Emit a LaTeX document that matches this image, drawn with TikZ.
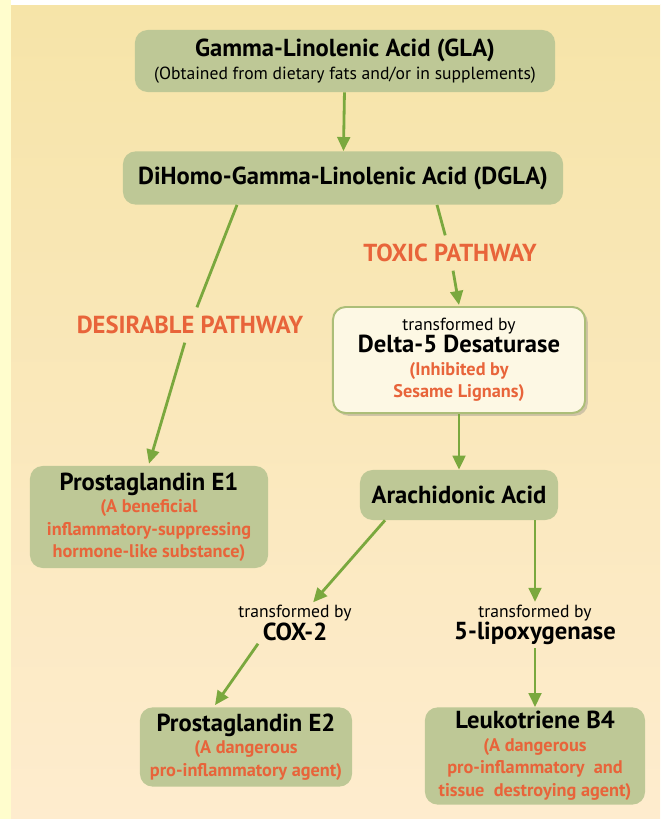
\documentclass[tikz,border=0pt]{standalone}
\usepackage{fontspec}
\setmainfont{PT Sans}
\usetikzlibrary{arrows.meta,shadows,calc}

\definecolor{boxgreen}{RGB}{190,200,150}
\definecolor{boxedge}{RGB}{172,190,120}
\definecolor{arrowgreen}{RGB}{122,168,62}
\definecolor{pathorange}{RGB}{232,100,58}
\definecolor{bgtop}{RGB}{246,228,168}
\definecolor{bgbottom}{RGB}{254,236,206}
\definecolor{stripyellow}{RGB}{255,253,205}
\definecolor{cream}{RGB}{253,248,228}

% fonts
\newcommand\namefont{\bfseries\fontsize{17.5}{16}\selectfont}
\newcommand\notefont{\fontsize{12.5}{16}\selectfont}
\newcommand\byfont{\fontsize{12.5}{16}\selectfont}
\newcommand\warnfont{\bfseries\fontsize{13}{16}\selectfont\color{pathorange}}

\tikzset{
  textlines/.style={align=center, font=\fontsize{12.5}{16}\selectfont},
  acidbox/.style={textlines, fill=boxgreen, rounded corners=9pt, inner sep=0pt},
  enzymebox/.style={textlines, fill=cream, draw=boxedge, line width=1.4pt, rounded corners=9pt,
    inner sep=0pt,
    drop shadow={shadow xshift=2pt, shadow yshift=-2pt, opacity=0.35}},
  bylabel/.style={textlines, inner sep=2pt},
  pathlabel/.style={text=pathorange, font=\bfseries\fontsize{17.5}{18}\selectfont, inner sep=6pt},
  flow/.style={draw=arrowgreen, line width=2pt, -{Triangle[length=10pt,width=9pt]}},
  link/.style={draw=arrowgreen, line width=2pt}
}

\begin{document}
\begin{tikzpicture}[x=0.025cm, y=-0.025cm]

% background
\useasboundingbox (0,0) rectangle (660,819);
\shade[top color=bgtop, bottom color=bgbottom] (11,5) rectangle (660,819);
\fill[stripyellow] (0,0) rectangle (11,819);
\fill[white] (11,0) rectangle (660,5);

% acids
\node[acidbox, minimum width=10.5cm, minimum height=1.55cm] (gla) at (345,61)
  {\namefont Gamma-Linolenic Acid (GLA)\\ \notefont (Obtained from dietary fats and/or in supplements)};
\node[acidbox, minimum width=11cm, minimum height=1.33cm] (dgla) at (343,178)
  {\namefont DiHomo-Gamma-Linolenic Acid (DGLA)};
\node[enzymebox, minimum width=6.3cm, minimum height=2.65cm] (delta) at (459,360)
  {\byfont transformed by\\ \namefont Delta-5 Desaturase\\ \warnfont (Inhibited by\\ \warnfont Sesame Lignans)};
\node[acidbox, minimum width=4.95cm, minimum height=1.25cm] (aa) at (459,495)
  {\namefont Arachidonic Acid};
\node[acidbox, minimum width=5.95cm, minimum height=2.55cm] (pge1) at (149,517)
  {\namefont Prostaglandin E1\\ \warnfont (A beneficial\\ \warnfont inflammatory-suppressing\\ \warnfont hormone-like substance)};
\node[bylabel] (cox) at (295,623) {\byfont transformed by\\ \namefont COX-2};
\node[bylabel] (lipox) at (535,625) {\byfont transformed by\\ \namefont 5-lipoxygenase};
\node[acidbox, minimum width=5.3cm, minimum height=1.98cm] (pge2) at (246,747)
  {\namefont Prostaglandin E2\\ \warnfont (A dangerous\\ \warnfont pro-inflammatory agent)};
\node[acidbox, minimum width=5.5cm, minimum height=2.43cm] (ltb4) at (535,756)
  {\namefont Leukotriene B4\\ \warnfont (A dangerous\\ \warnfont pro-inflammatory~ and\\ \warnfont tissue~ destroying agent)};

% pathway labels
\node[pathlabel] (desirable) at (190,325) {DESIRABLE PATHWAY};
\node[pathlabel] (toxic) at (450,253) {TOXIC PATHWAY};

% arrows
\draw[flow] (gla) -- (dgla);
\draw[link] ($(dgla.south)+(-106,0)$) -- (desirable);
\draw[flow] (desirable) -- ($(pge1.north)+(0,-2)$);
\draw[link] ($(dgla.south)+(94,0)$) -- (toxic);
\draw[flow] (toxic) -- ($(delta.north)+(0,-1)$);
\draw[flow] (delta) -- (aa);
\draw[flow] ($(aa.south)+(-74,0)$) -- (cox);
\draw[flow] ($(cox.south)+(-37,0)$) -- ($(pge2.north)+(-31,-2)$);
\draw[flow] ($(aa.south)+(76,0)$) -- (lipox);
\draw[flow] (lipox) -- (ltb4);

\end{tikzpicture}
\end{document}
